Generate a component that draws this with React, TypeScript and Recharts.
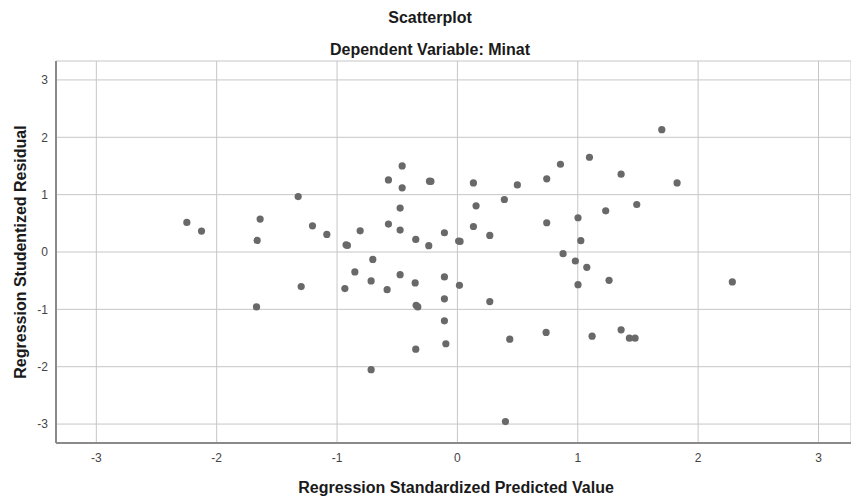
import { ScatterChart, Scatter, XAxis, YAxis, CartesianGrid, Customized } from 'recharts';

// Regression standardized predicted value (x) and studentized residual (y)
const predicted = [
  -2.248, -2.126, -1.639, -1.664, -1.323, -1.204, -1.085, -0.914, -0.925, -0.808,
  -0.703, -0.573, -0.459, -0.459, -0.476, -0.573, -0.476, -0.346, -0.238, -0.232,
  -0.22, -0.108, 0.022, 0.01, 0.133, 0.155, 0.133, 0.269, 0.39, 0.498,
  0.742, 0.856, 0.742, 0.878, 1.002, 1.025, 1.097, 1.232, 1.36, 1.49,
  1.698, 1.825, -0.852, -1.298, -0.935, -1.669, -0.717, -0.584, -0.476, -0.351,
  -0.343, -0.329, -0.108, -0.108, 0.017, -0.108, -0.346, -0.096, -0.717, 0.269,
  0.435, 0.399, 0.737, 0.98, 1.075, 1.002, 1.26, 1.119, 1.36, 1.429,
  1.476, 2.284,
];
const residual = [
  0.515, 0.365, 0.574, 0.202, 0.967, 0.457, 0.306, 0.115, 0.125, 0.37,
  -0.13, 1.257, 1.5, 1.118, 0.765, 0.487, 0.383, 0.219, 0.11, 1.235,
  1.23, 0.336, 0.184, 0.19, 1.205, 0.805, 0.445, 0.289, 0.915, 1.17,
  1.275, 1.53, 0.51, -0.03, 0.597, 0.197, 1.652, 0.718, 1.356, 0.828,
  2.132, 1.205, -0.348, -0.603, -0.638, -0.957, -0.504, -0.656, -0.395, -0.539,
  -0.928, -0.957, -0.435, -0.817, -0.581, -1.2, -1.694, -1.6, -2.052, -0.864,
  -1.52, -2.957, -1.403, -0.157, -0.267, -0.569, -0.494, -1.467, -1.357, -1.503,
  -1.503, -0.522,
];
const ticks = [-3, -2, -1, 0, 1, 2, 3];

const points = predicted.map((x, i) => ({ x, y: residual[i] }));

const font = '"Liberation Sans", Arial, sans-serif';

const Titles = () => (
  <g fontFamily={font} fontWeight="bold" fill="#1a1a1a" fontSize={16}>
    <text x={430} y={23} textAnchor="middle">Scatterplot</text>
    <text x={430} y={55} textAnchor="middle">Dependent Variable: Minat</text>
    <text x={456} y={493} textAnchor="middle">Regression Standardized Predicted Value</text>
    <text x={26} y={252} textAnchor="middle" transform="rotate(-90 26 252)">
      Regression Studentized Residual
    </text>
  </g>
);

const Dot = (props: any) => <circle cx={props.cx} cy={props.cy} r={3.6} fill="#696969" />;

export default function App() {
  return (
    <div style={{ position: 'absolute', left: 0, top: 0, background: '#fff' }}>
      <ScatterChart
        width={851}
        height={498}
        margin={{ top: 61, right: 0, bottom: 0, left: 0 }}
      >
        <CartesianGrid stroke="#c6c6c6" strokeWidth={1} />
        <XAxis
          type="number"
          dataKey="x"
          domain={[-3.335, 3.27]}
          ticks={ticks}
          allowDataOverflow
          height={55}
          tickLine={false}
          axisLine={{ stroke: '#8a8a8a', strokeWidth: 2 }}
          tick={{ fill: '#444', fontSize: 12, fontFamily: font }}
          tickMargin={4}
        />
        <YAxis
          type="number"
          dataKey="y"
          domain={[-3.33, 3.33]}
          ticks={ticks}
          allowDataOverflow
          width={56}
          tickLine={false}
          axisLine={{ stroke: '#8a8a8a', strokeWidth: 2 }}
          tick={{ fill: '#444', fontSize: 12, fontFamily: font }}
        />
        <Scatter data={points} shape={Dot} isAnimationActive={false} />
        <Customized component={Titles} />
      </ScatterChart>
    </div>
  );
}
